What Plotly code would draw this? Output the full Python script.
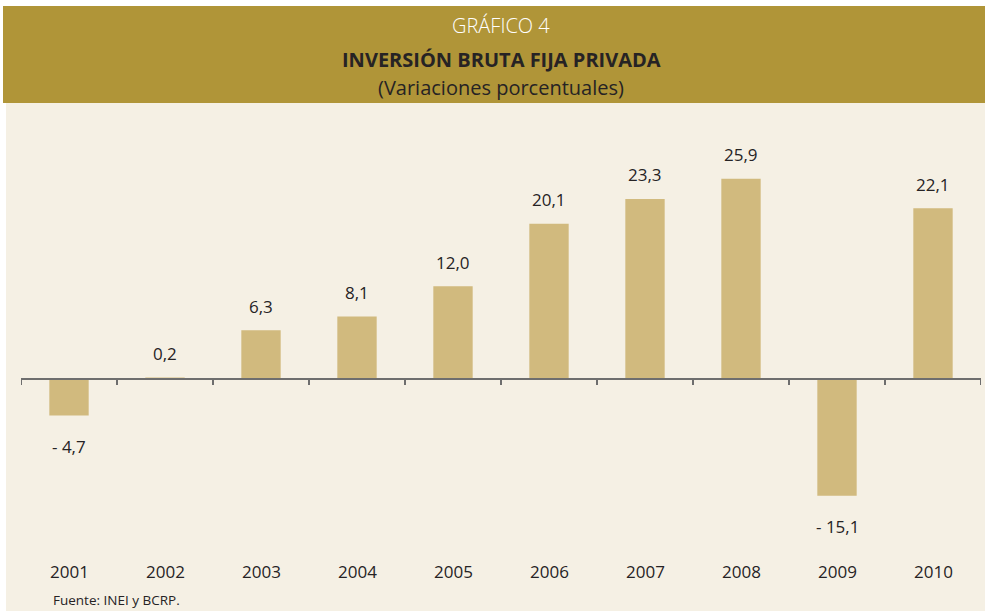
import plotly.graph_objects as go

years = ["2001", "2002", "2003", "2004", "2005", "2006", "2007", "2008", "2009", "2010"]
values = [-4.7, 0.2, 6.3, 8.1, 12.0, 20.1, 23.3, 25.9, -15.1, 22.1]

W, H = 985, 611
L, R, T, B = 21, 4, 110, 51
PW, PH = W - L - R, H - T - B
Y0, Y1 = -23.4, 34.8


def px_x(p):
    return (p - L) / PW


def px_y(p):
    return (H - B - p) / PH


def fmt(v):
    s = f"{abs(v):.1f}".replace(".", ",")
    return ("- " + s) if v < 0 else s


BG = "#F5F0E4"
GOLD = "#B09538"
BAR = "#D1BA7E"
AX = "#6E6E6E"
TXT = "#262324"
FONT = "Open Sans"

idx = list(range(len(years)))

fig = go.Figure()
fig.add_trace(go.Bar(x=idx, y=values, marker=dict(color=BAR, line=dict(width=0)),
                     width=0.41, hoverinfo="skip"))

annotations = []
for i, (yr, v) in enumerate(zip(years, values)):
    annotations.append(dict(x=i, y=v, xref="x", yref="y", text=fmt(v), showarrow=False,
                            yanchor="middle", yshift=24 if v >= 0 else -31,
                            font=dict(family=FONT, size=17, color=TXT, weight=500)))
    annotations.append(dict(x=i, y=px_y(571), xref="x", yref="paper", text=yr, showarrow=False,
                            yanchor="middle",
                            font=dict(family=FONT, size=17, color=TXT, weight=500)))

annotations += [
    dict(x=0.5, y=px_y(25), xref="paper", yref="paper", xanchor="center", yanchor="middle",
         text="GRÁFICO 4", showarrow=False,
         font=dict(family=FONT, size=20, color="white", weight=300)),
    dict(x=0.5, y=px_y(60), xref="paper", yref="paper", xanchor="center", yanchor="middle",
         text="<b>INVERSIÓN BRUTA FIJA PRIVADA</b>", showarrow=False,
         font=dict(family=FONT, size=20, color=TXT)),
    dict(x=0.5, y=px_y(87), xref="paper", yref="paper", xanchor="center", yanchor="middle",
         text="(Variaciones porcentuales)", showarrow=False,
         font=dict(family=FONT, size=20, color=TXT)),
    dict(x=px_x(51), y=px_y(600), xref="paper", yref="paper", xanchor="left", yanchor="middle",
         text="Fuente: INEI y BCRP.", showarrow=False,
         font=dict(family=FONT, size=13.5, color=TXT)),
]

shapes = [
    dict(type="rect", xref="paper", yref="paper", x0=px_x(6), x1=px_x(W + 5),
         y0=px_y(H + 5), y1=px_y(103), fillcolor=BG, line=dict(width=0), layer="below"),
    dict(type="rect", xref="paper", yref="paper", x0=px_x(3), x1=px_x(W + 5),
         y0=px_y(103), y1=px_y(6), fillcolor=GOLD, line=dict(width=0), layer="below"),
    dict(type="line", xref="x", yref="y", x0=-0.5, x1=len(years) - 0.5, y0=0, y1=0,
         line=dict(color=AX, width=2), layer="above"),
]
for i in range(len(years) + 1):
    shapes.append(dict(type="line", xref="x", yref="y", ysizemode="pixel", yanchor=0,
                       x0=i - 0.5, x1=i - 0.5, y0=1, y1=-6,
                       line=dict(color=AX, width=2), layer="above"))

fig.update_layout(
    width=W, height=H,
    margin=dict(l=L, r=R, t=T, b=B, pad=0),
    paper_bgcolor="white", plot_bgcolor="rgba(0,0,0,0)",
    showlegend=False,
    xaxis=dict(range=[-0.5, len(years) - 0.5], visible=False, showgrid=False,
               zeroline=False, fixedrange=True),
    yaxis=dict(range=[Y0, Y1], visible=False, showgrid=False, zeroline=False, fixedrange=True),
    annotations=annotations, shapes=shapes,
)

fig.write_html("out.html", config={"displayModeBar": False},
               post_script="document.body.style.margin='0';")
